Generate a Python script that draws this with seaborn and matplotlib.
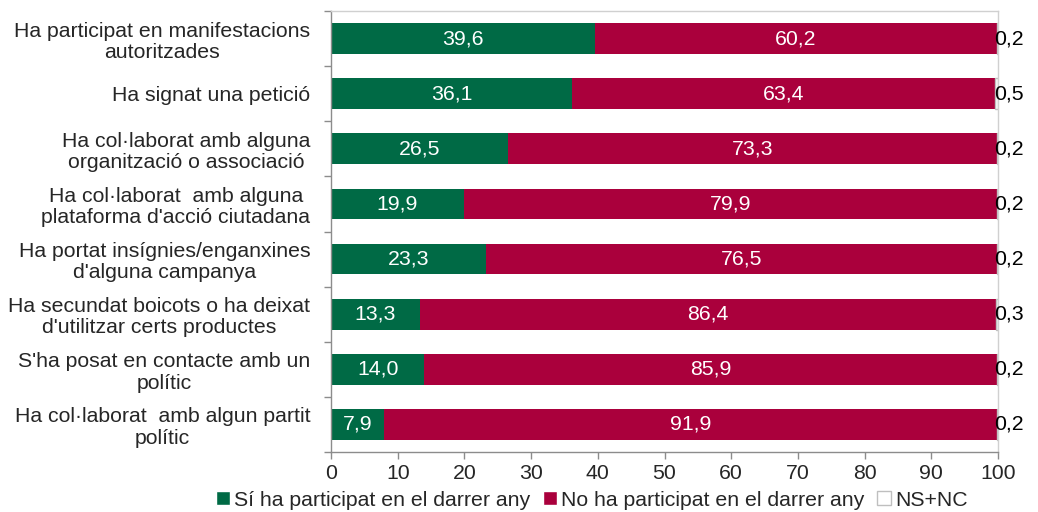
import matplotlib
matplotlib.use("Agg")
import matplotlib.pyplot as plt
import seaborn as sns
import pandas as pd
from matplotlib.patches import Patch

# chart data
items = ["Ha participat en manifestacions\nautoritzades",
         "Ha signat una petició",
         "Ha col·laborat amb alguna\norganització o associació",
         "Ha col·laborat  amb alguna\nplataforma d'acció ciutadana",
         "Ha portat insígnies/enganxines\nd'alguna campanya",
         "Ha secundat boicots o ha deixat\nd'utilitzar certs productes",
         "S'ha posat en contacte amb un\npolític",
         "Ha col·laborat  amb algun partit\npolític"]
si = [39.6, 36.1, 26.5, 19.9, 23.3, 13.3, 14.0, 7.9]
no = [60.2, 63.4, 73.3, 79.9, 76.5, 86.4, 85.9, 91.9]
nsnc = [0.2, 0.5, 0.2, 0.2, 0.2, 0.3, 0.2, 0.2]
legend_labels = ["Sí ha participat en el darrer any",
                 "No ha participat en el darrer any",
                 "NS+NC"]

green = "#006A45"
crimson = "#AA003C"
fs = 15.3

df = pd.DataFrame({"item": items, "si": si, "no": no, "nsnc": nsnc})
df["si_no"] = df["si"] + df["no"]

sns.set_style("white")
plt.rcParams["font.family"] = ["Liberation Sans", "DejaVu Sans"]

fig = plt.figure(figsize=(10.38, 5.12), dpi=100)
ax = fig.add_axes([0.3189, 0.1172, 0.6426, 0.8613])

bw = 0.56
sns.barplot(data=df, y="item", x="si_no", color=crimson, width=bw,
            saturation=1, orient="h", ax=ax, linewidth=0)
sns.barplot(data=df, y="item", x="si", color=green, width=bw,
            saturation=1, orient="h", ax=ax, linewidth=0)
ax.barh(range(len(items)), df["nsnc"], left=df["si_no"], height=bw,
        color="white", edgecolor="#BFBFBF", linewidth=1)

fmt = lambda v: f"{v:.1f}".replace(".", ",")
for i, row in df.iterrows():
    ax.text(row["si"] / 2, i, fmt(row["si"]), color="white",
            ha="center", va="center", fontsize=fs)
    ax.text(row["si"] + row["no"] / 2, i, fmt(row["no"]), color="white",
            ha="center", va="center", fontsize=fs)
    ax.text(101.7, i, fmt(row["nsnc"]), color="black",
            ha="center", va="center", fontsize=fs)

ax.set_xlim(0, 100)
ax.set_ylim(len(items) - 0.5, -0.5)
ax.set_xticks(range(0, 101, 10))
ax.set_xlabel("")
ax.set_ylabel("")
ax.set_yticks(range(len(items)))
ax.set_yticklabels(items, multialignment="center", fontsize=fs,
                   linespacing=1.15)
ax.set_yticks([i - 0.5 for i in range(len(items) + 1)], minor=True)
ax.tick_params(axis="y", which="major", length=0, pad=15)
ax.tick_params(axis="y", which="minor", length=5, color="#8C8C8C",
               width=1, direction="out", left=True)
ax.tick_params(axis="x", length=5, color="#8C8C8C", width=1,
               direction="out", bottom=True, labelsize=fs, pad=4)

for side in ["left", "bottom"]:
    ax.spines[side].set_color("#8C8C8C")
    ax.spines[side].set_linewidth(1)
for side in ["top", "right"]:
    ax.spines[side].set_color("#D0D0D0")
    ax.spines[side].set_linewidth(1)

handles = [Patch(facecolor=green), Patch(facecolor=crimson),
           Patch(facecolor="white", edgecolor="#BFBFBF")]
fig.legend(handles, legend_labels, loc="center", bbox_to_anchor=(0.57, 0.023),
           ncol=3, frameon=False, fontsize=fs, handlelength=0.65,
           handleheight=0.65, handletextpad=0.2, columnspacing=0.6,
           borderpad=0)

fig.savefig("out.png", dpi=100)
